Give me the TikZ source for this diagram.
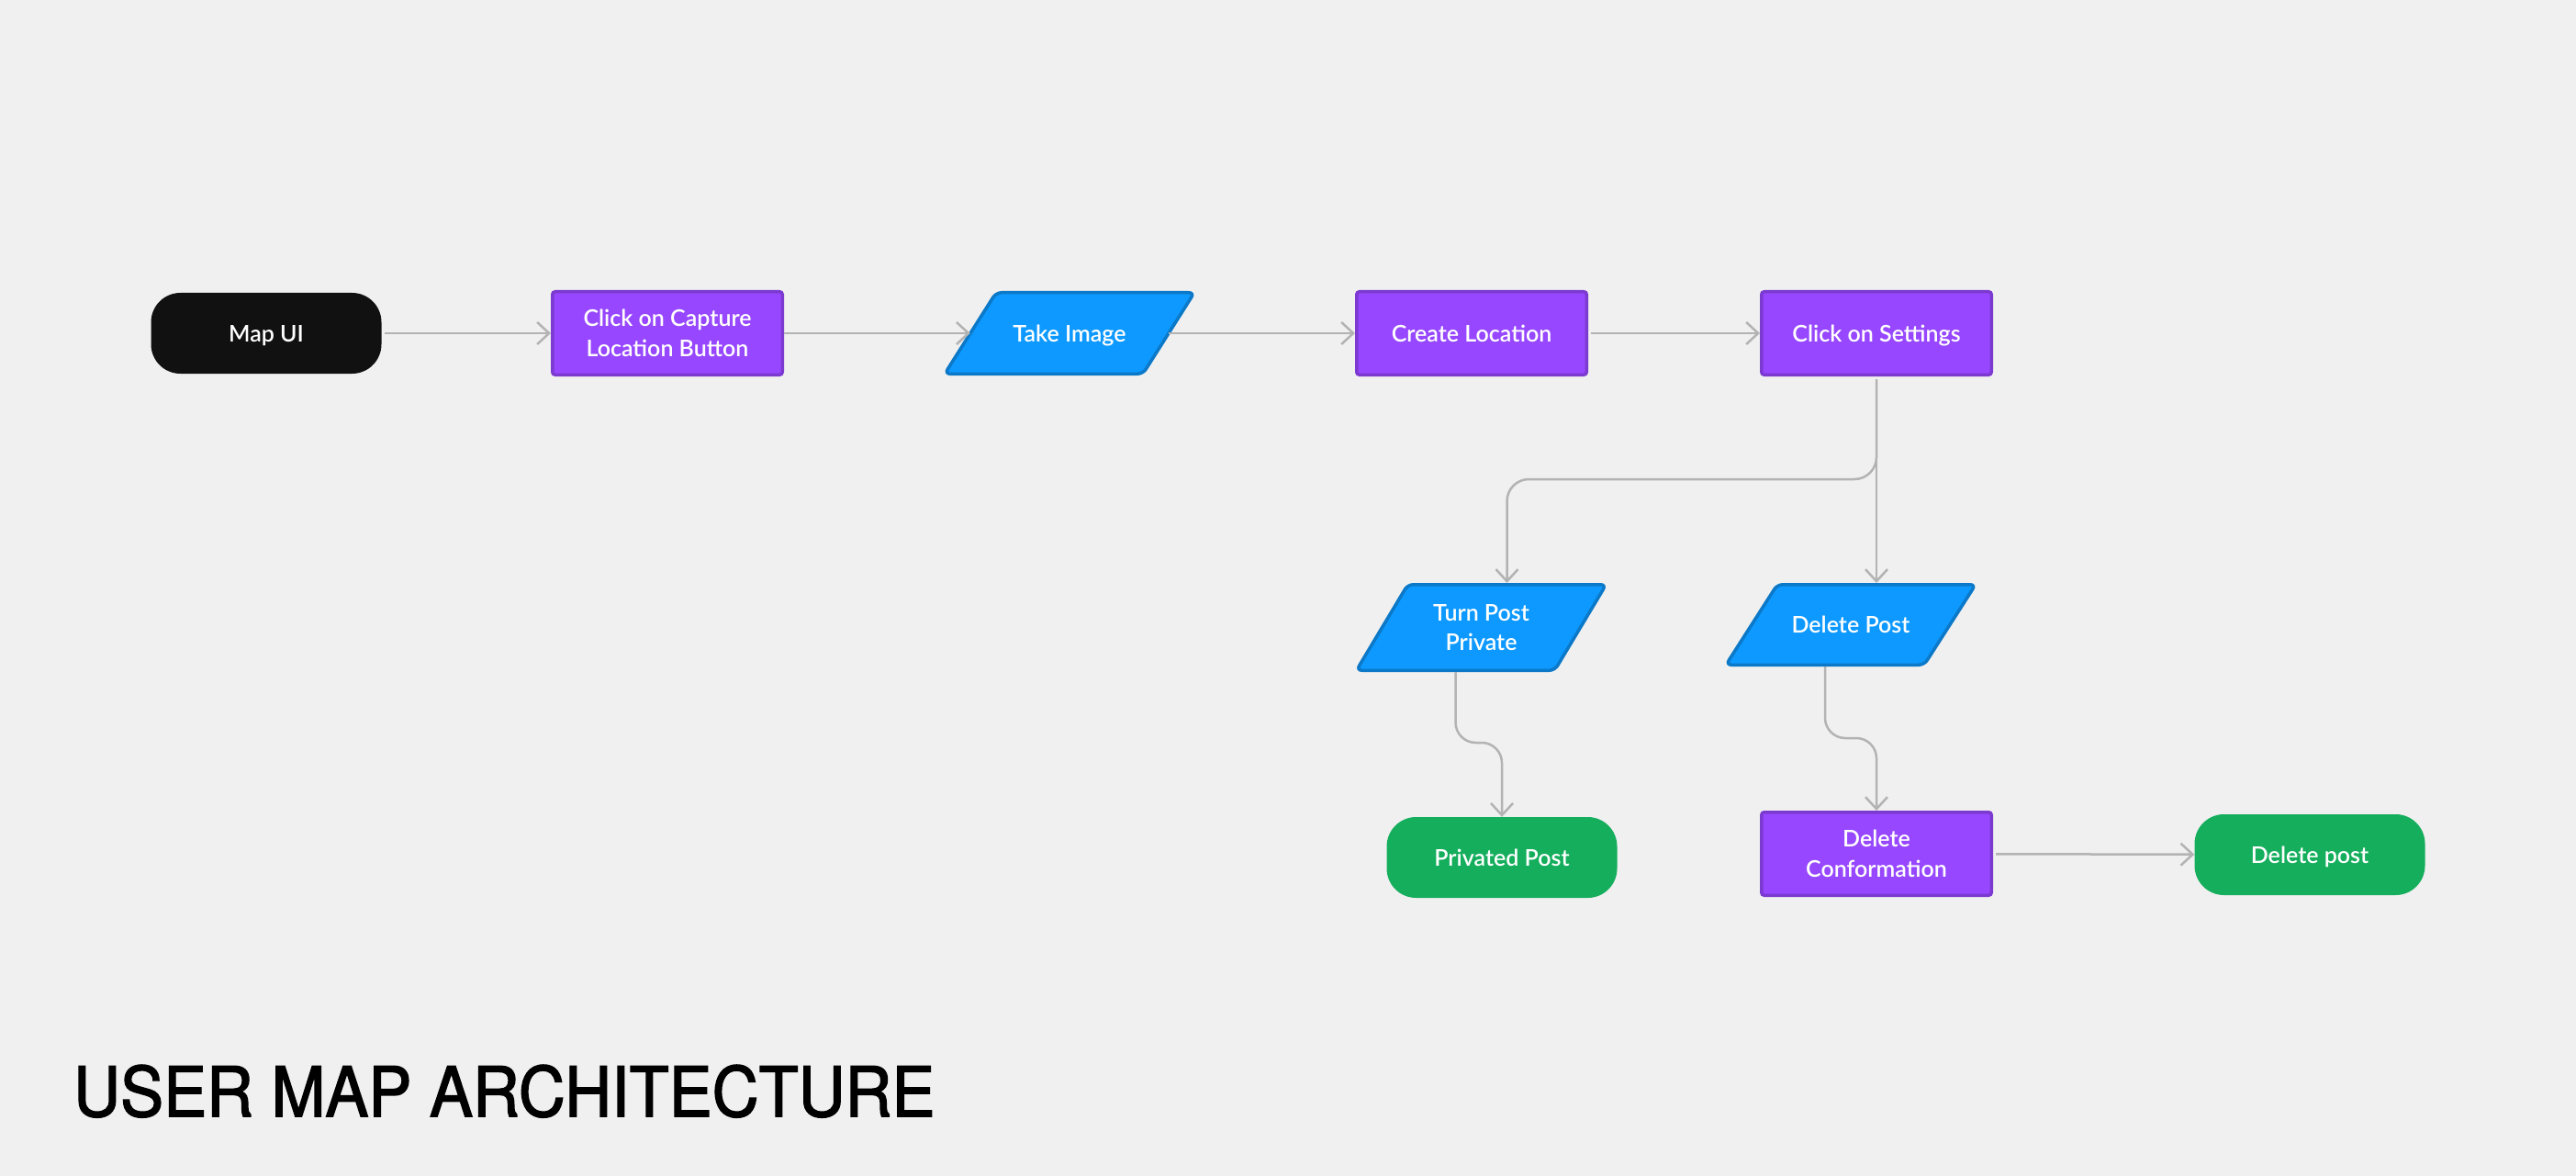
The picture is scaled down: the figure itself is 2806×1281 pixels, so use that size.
\documentclass[tikz,border=0pt]{standalone}
\usepackage{fontspec}
\setmainfont{Lato}[UprightFont={* Semibold}]
\newfontfamily\titlefont{TeX Gyre Heros}[FakeBold=2]
\usetikzlibrary{arrows.meta}
\definecolor{bg}{HTML}{F0F0F0}
\definecolor{pfill}{HTML}{9747FF}
\definecolor{pline}{HTML}{7C3AD0}
\definecolor{bfill}{HTML}{0D99FF}
\definecolor{bline}{HTML}{0B78C8}
\definecolor{gfill}{HTML}{14AE5C}
\definecolor{kfill}{HTML}{111111}
\definecolor{lgray}{HTML}{B3B3B3}
\newcommand{\paranode}[6]{%
  \draw[parashape] ({#2-80},{#3-#4/2+1.75}) -- ({#2+136},{#3-#4/2+1.75}) -- ({#2+80},{#3+#4/2-1.75}) -- ({#2-136},{#3+#4/2-1.75}) -- cycle;
  \node[paratext,#6] (#1) at (#2,#3) {#5};
  \coordinate (#1-top) at ({#2+28},{#3-#4/2});
  \coordinate (#1-bot) at ({#2-28},{#3+#4/2});
}
\begin{document}
\begin{tikzpicture}[x=1pt,y=-1pt,
  txt/.style={text=white, font=\fontsize{25}{32.5}\selectfont, align=center, inner sep=0pt},
  one/.style={text height=18pt, text depth=0pt},
  purplebox/.style={txt, rectangle, rounded corners=3pt, minimum width=250.5pt, minimum height=90.5pt, line width=3.5pt, fill=pfill, draw=pline},
  pill/.style={txt, one, rectangle, rounded corners=32pt, minimum width=251pt, minimum height=88pt},
  parashape/.style={fill=bfill, draw=bline, line width=3.5pt, rounded corners=6pt},
  paratext/.style={txt, minimum width=216pt},
  conn/.style={draw=lgray, line width=2.5pt, -{Straight Barb[length=13pt,width=24pt]}}
]
\fill[bg] (0,0) rectangle (2806,1281);
\useasboundingbox (0,0) rectangle (2806,1281);

\node[pill, fill=kfill] (map) at (290,363) {Map UI};
\node[purplebox] (cap) at (727,363) {Click on Capture\\Location Button};
\paranode{ti}{1165}{363}{92}{Take Image}{one}
\node[purplebox, one] (cl) at (1603,363) {Create Location};
\node[purplebox, one] (cs) at (2044,363) {Click on Settings};
\paranode{tp}{1613.5}{683.5}{97}{Turn Post\\Private}{}
\paranode{dp}{2016}{680.5}{91}{Delete Post}{one}
\node[pill, fill=gfill] (pp) at (1636,934) {Privated Post};
\node[purplebox] (dc) at (2044,930) {Delete\\Conformation};
\node[pill, fill=gfill] (dpo) at (2516,931) {Delete post};

\coordinate (split) at (2044,522);
\coordinate (ppbend) at (1636,809);
\coordinate (dcbend) at (2044,804);

\draw[conn, shorten <=3pt] (map) -- (cap);
\draw[conn] (cap) -- (ti.west);
\draw[conn] (ti.east) -- (cl);
\draw[conn, shorten <=3pt] (cl) -- (cs);
\draw[conn, shorten <=3pt] (cs.south) -- (dp-top);
\draw[conn, shorten <=3pt, rounded corners=24pt] (cs.south) -- (split) -| (tp-top);
\draw[conn, rounded corners=22pt] (tp-bot) |- (ppbend) -- (pp.north);
\draw[conn, rounded corners=22pt] (dp-bot) |- (dcbend) -- (dc.north);
\draw[conn, shorten <=3pt] (dc) -- (dpo);

\node[anchor=base west, inner sep=0pt, font=\titlefont\fontsize{75}{80}\selectfont] (title) at (80,1216) {\scalebox{0.94}[1]{USER MAP ARCHITECTURE}};
\end{tikzpicture}
\end{document}
